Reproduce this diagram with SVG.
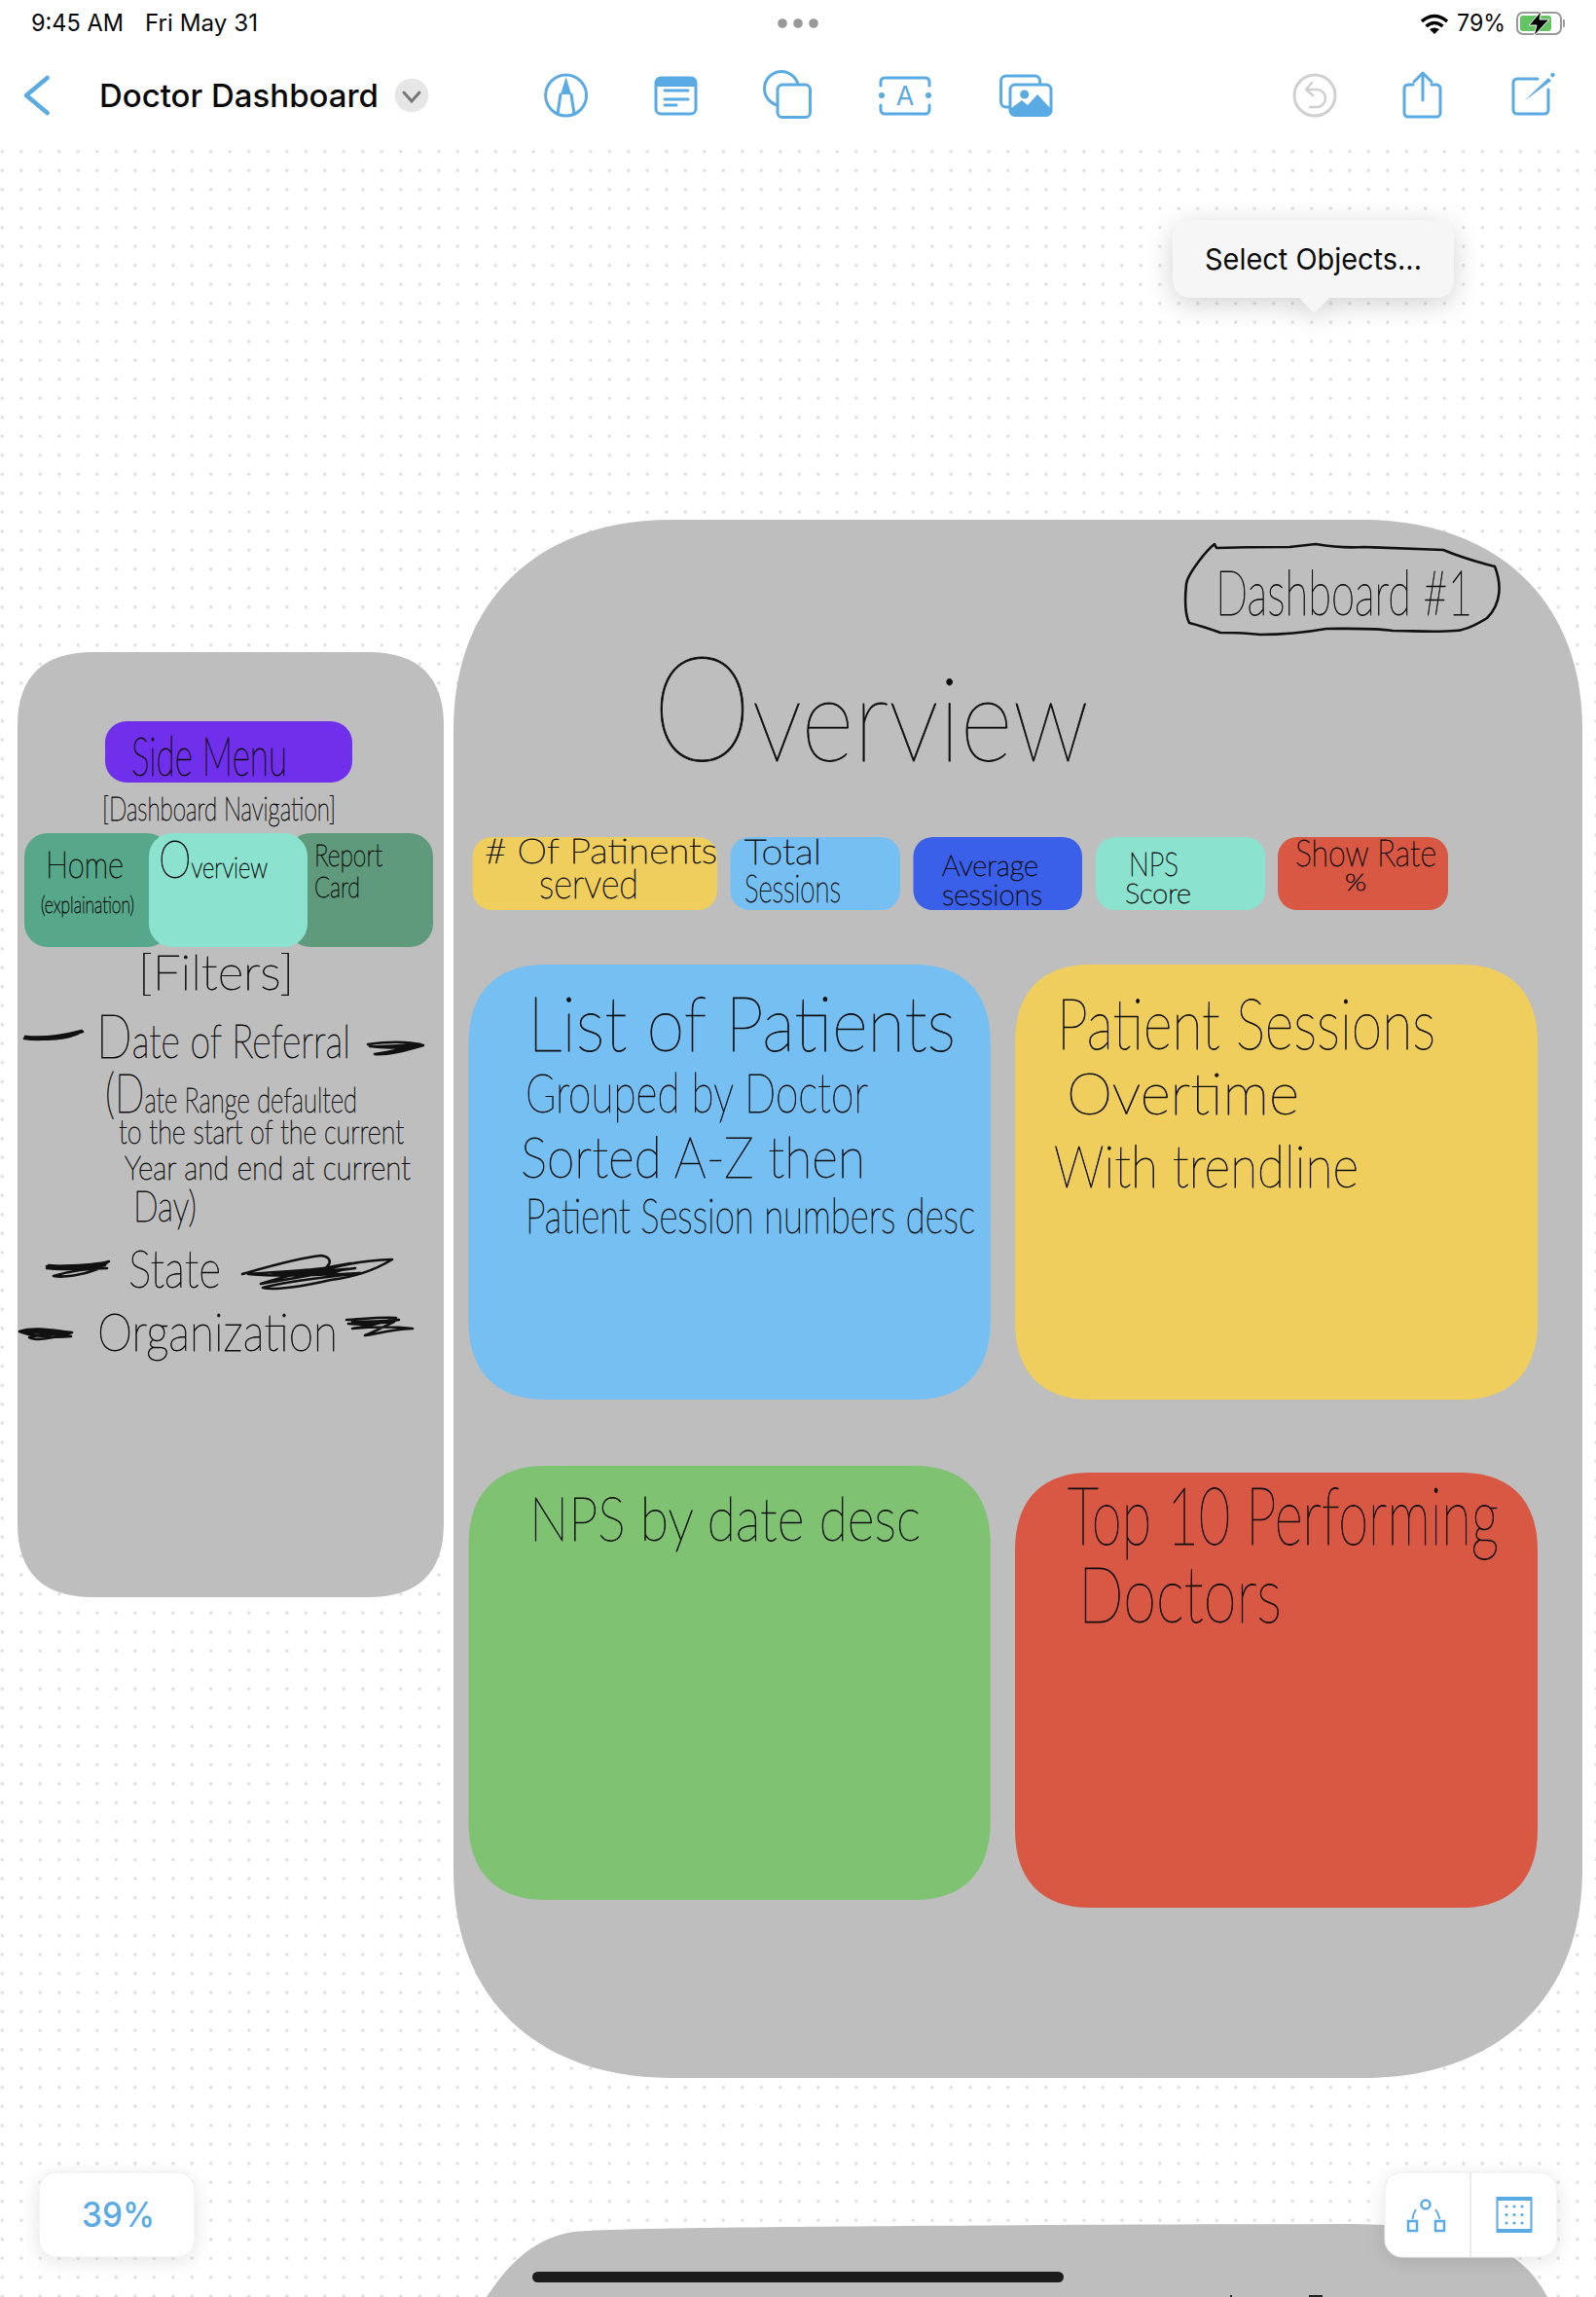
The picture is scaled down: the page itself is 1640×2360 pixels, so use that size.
<svg xmlns="http://www.w3.org/2000/svg" width="1640" height="2360" viewBox="0 0 1640 2360">
<style>
.ui{font-family:Inter,"Liberation Sans",sans-serif;fill:#0a0a0a}
.hw{font-family:Lato,Roboto,"Liberation Sans",sans-serif;font-weight:100;fill:#0d0d0d;stroke:#0d0d0d;stroke-width:.8}
.ic{fill:none;stroke:#5aabe3;stroke-width:3;stroke-linecap:round;stroke-linejoin:round}
.fb{fill:#5aabe3}
.sc{fill:none;stroke:#111;stroke-width:2.6;stroke-linecap:round;stroke-linejoin:round}
</style>
<defs>
<pattern id="dots" x="-7.45" y="145.95" width="19.5" height="19.5" patternUnits="userSpaceOnUse"><circle cx="9.75" cy="9.75" r="1.7" fill="#dcdcdc"/></pattern>
<filter id="sh" x="-30%" y="-60%" width="160%" height="240%"><feDropShadow dx="0" dy="6" stdDeviation="14" flood-color="#000" flood-opacity=".18"/></filter>
<filter id="sh2" x="-30%" y="-30%" width="160%" height="160%"><feDropShadow dx="0" dy="4" stdDeviation="10" flood-color="#000" flood-opacity=".1"/></filter>
</defs>
<rect width="1640" height="2360" fill="#fff"/>
<rect y="146" width="1640" height="2214" fill="url(#dots)"/>

<g id="bottom-panel"><path d="M500 2360C520 2330 545 2300 590 2293C620 2288 1000 2286 1380 2285C1490 2285 1560 2300 1590 2360Z" fill="#bebebe"/><path d="M1265 2360v-2M1345 2359h14" stroke="#222" stroke-width="2" fill="none"/></g>

<g id="side-panel">
<path d="M18 745C18 695 45 670 95 670H379C429 670 456 695 456 745V1566C456 1616 429 1641 379 1641H95C45 1641 18 1616 18 1566Z" fill="#bebebe"/>
</g>
<g id="side-menu">
<rect x="108" y="741" width="254" height="63" rx="22" fill="#7030eb"/>
<text class="hw" x="135" y="797" font-size="56" textLength="160" lengthAdjust="spacingAndGlyphs">Side Menu</text>
<text class="hw" x="105" y="843" font-size="34" textLength="240" lengthAdjust="spacingAndGlyphs">[Dashboard Navigation]</text>
</g>
<g id="nav-tabs">
<rect x="25" y="856" width="150" height="117" rx="24" fill="#57a88a"/>
<rect x="295" y="856" width="150" height="117" rx="24" fill="#5f9a7c"/>
<rect x="153" y="856" width="163" height="117" rx="24" fill="#8be2cf"/>
<text class="hw" x="47" y="902" font-size="38" textLength="80" lengthAdjust="spacingAndGlyphs">Home</text>
<text class="hw" x="42" y="938" font-size="23" textLength="96" lengthAdjust="spacingAndGlyphs">(explaination)</text>
<text class="hw" x="163" y="902" font-size="30" textLength="112" lengthAdjust="spacingAndGlyphs"><tspan font-size="54">O</tspan>verview</text>
<text class="hw" x="323" y="890" font-size="32" textLength="70" lengthAdjust="spacingAndGlyphs">Report</text>
<text class="hw" x="323" y="922" font-size="30" textLength="47" lengthAdjust="spacingAndGlyphs">Card</text>
</g>
<g id="filters">
<text class="hw" x="142" y="1017" font-size="50" textLength="160" lengthAdjust="spacingAndGlyphs">[Filters]</text>
<text class="hw" x="99" y="1087" font-size="48" textLength="261" lengthAdjust="spacingAndGlyphs"><tspan font-size="62">D</tspan>ate of Referral</text>
<text class="hw" x="108" y="1143" font-size="36" textLength="259" lengthAdjust="spacingAndGlyphs"><tspan font-size="56">(D</tspan>ate Range defaulted</text>
<text class="hw" x="122" y="1175" font-size="34" textLength="293" lengthAdjust="spacingAndGlyphs">to the start of the current</text>
<text class="hw" x="128" y="1212" font-size="34" textLength="294" lengthAdjust="spacingAndGlyphs">Year and end at current</text>
<text class="hw" x="137" y="1255" font-size="44" textLength="65" lengthAdjust="spacingAndGlyphs">Day)</text>
<text class="hw" x="132" y="1323" font-size="54" textLength="95" lengthAdjust="spacingAndGlyphs">State</text>
<text class="hw" x="100" y="1388" font-size="54" textLength="247" lengthAdjust="spacingAndGlyphs">Organization</text>
<path class="sc" d="M25 1067C45 1070 60 1066 85 1060C65 1066 45 1070 28 1066C50 1068 70 1064 84 1059C65 1064 45 1067 26 1065C45 1069 65 1068 80 1062"/>
<path class="sc" d="M378 1073C400 1070 420 1070 435 1074C415 1080 395 1084 385 1083C405 1080 420 1076 432 1073C410 1074 392 1076 380 1075C400 1078 418 1076 430 1075"/>
<path class="sc" d="M48 1301C70 1300 95 1301 112 1296L100 1304C85 1310 65 1313 55 1311C75 1305 95 1303 110 1303C85 1303 65 1304 48 1303C70 1306 90 1302 108 1300C85 1300 65 1302 50 1300"/>
<path class="sc" d="M249 1309C280 1300 310 1292 330 1290C345 1292 340 1305 320 1308C350 1300 370 1295 403 1294C385 1305 365 1312 340 1315C310 1322 280 1326 270 1323C300 1315 340 1312 370 1308C330 1310 290 1312 255 1309C300 1306 340 1304 360 1298C330 1303 290 1312 268 1319C300 1314 340 1306 365 1303C335 1306 300 1310 280 1308C310 1307 340 1310 350 1305"/>
<path class="sc" d="M20 1368C35 1363 55 1367 74 1369C55 1375 35 1378 30 1374C45 1370 60 1370 73 1373C50 1375 30 1372 20 1368C40 1369 55 1372 70 1371C50 1368 35 1368 24 1369"/>
<path class="sc" d="M356 1356C375 1355 390 1353 407 1354C390 1360 370 1364 362 1365C385 1363 405 1363 424 1365C400 1366 385 1371 375 1372C390 1366 400 1360 405 1358C385 1360 370 1360 358 1360C380 1362 395 1359 410 1356C390 1358 375 1358 362 1358"/>
</g>

<g id="main-panel">
<path d="M466 750C466 610 560 534 690 534H1400C1530 534 1626 610 1626 750V1921C1626 2061 1530 2135 1400 2135H690C560 2135 466 2061 466 1921Z" fill="#bebebe"/>
</g>
<g id="dashboard-title">
<path class="sc" d="M1248 559L1250 563C1280 562 1310 562 1325 562L1352 559C1370 562 1385 563 1401 562C1430 563 1460 564 1483 565C1500 572 1520 578 1536 582C1543 600 1543 620 1528 635C1520 640 1505 648 1495 648C1475 650 1450 648 1431 648C1410 645 1385 646 1363 646C1340 650 1315 652 1295 652C1280 650 1265 650 1254 650C1240 645 1230 642 1222 640C1217 630 1218 610 1219 600C1220 590 1240 565 1248 559Z"/>
<text class="hw" x="1249" y="632" font-size="64" textLength="264" lengthAdjust="spacingAndGlyphs">Dashboard #1</text>
</g>
<g id="overview-title">
<text class="hw" x="670" y="782" font-size="120" textLength="449" lengthAdjust="spacingAndGlyphs"><tspan font-size="150">O</tspan>verview</text>
</g>
<g id="kpi-patients"><rect x="485.600" y="860" width="251.400" height="75" rx="20" fill="#efce5e"/>
<text class="hw" x="498" y="887" font-size="36" textLength="239" lengthAdjust="spacingAndGlyphs"># Of Patinents</text>
<text class="hw" x="554" y="923" font-size="42" textLength="102" lengthAdjust="spacingAndGlyphs">served</text></g>
<g id="kpi-sessions"><rect x="750.400" y="860" width="174.600" height="75" rx="20" fill="#75bff2"/>
<text class="hw" x="765" y="888" font-size="36" textLength="79" lengthAdjust="spacingAndGlyphs">Total</text>
<text class="hw" x="765" y="927" font-size="40" textLength="99" lengthAdjust="spacingAndGlyphs">Sessions</text></g>
<g id="kpi-average"><rect x="938.500" y="860" width="173.500" height="75" rx="20" fill="#3a5fe9"/>
<text class="hw" x="968" y="900" font-size="30" textLength="99" lengthAdjust="spacingAndGlyphs">Average</text>
<text class="hw" x="968" y="930" font-size="30" textLength="103" lengthAdjust="spacingAndGlyphs">sessions</text></g>
<g id="kpi-nps"><rect x="1126" y="860" width="174" height="75" rx="20" fill="#8be2cf"/>
<text class="hw" x="1160" y="900" font-size="34" textLength="51" lengthAdjust="spacingAndGlyphs">NPS</text>
<text class="hw" x="1156" y="928" font-size="28" textLength="68" lengthAdjust="spacingAndGlyphs">Score</text></g>
<g id="kpi-show-rate"><rect x="1313" y="860" width="175" height="75" rx="20" fill="#d95844"/>
<text class="hw" x="1331" y="890" font-size="38" textLength="145" lengthAdjust="spacingAndGlyphs">Show Rate</text>
<text class="hw" x="1382" y="915" font-size="24" textLength="22" lengthAdjust="spacingAndGlyphs">%</text></g>

<g id="card-patients"><path d="M481.500 1071C481.500 1020 510 991 560 991H940C990 991 1017.700 1020 1017.700 1071V1358C1017.700 1409 990 1438 940 1438H560C510 1438 481.500 1409 481.500 1358Z" fill="#75bff2"/>
<text class="hw" x="542" y="1080" font-size="78" textLength="440" lengthAdjust="spacingAndGlyphs">List of Patients</text>
<text class="hw" x="540" y="1143" font-size="56" textLength="352" lengthAdjust="spacingAndGlyphs">Grouped by Doctor</text>
<text class="hw" x="535" y="1210" font-size="58" textLength="354" lengthAdjust="spacingAndGlyphs">Sorted A-Z then</text>
<text class="hw" x="540" y="1267" font-size="50" textLength="462" lengthAdjust="spacingAndGlyphs">Patient Session numbers desc</text></g>
<g id="card-trend"><path d="M1043 1071C1043 1020 1070 991 1120 991H1502C1552 991 1580 1020 1580 1071V1358C1580 1409 1552 1438 1502 1438H1120C1070 1438 1043 1409 1043 1358Z" fill="#efce5e"/>
<text class="hw" x="1086" y="1078" font-size="72" textLength="389" lengthAdjust="spacingAndGlyphs">Patient Sessions</text>
<text class="hw" x="1096" y="1145" font-size="60" textLength="239" lengthAdjust="spacingAndGlyphs">Overtime</text>
<text class="hw" x="1083" y="1220" font-size="60" textLength="313" lengthAdjust="spacingAndGlyphs">With trendline</text></g>
<g id="card-nps"><path d="M481.500 1586C481.500 1535 510 1506 560 1506H940C990 1506 1017.700 1535 1017.700 1586V1872C1017.700 1923 990 1952 940 1952H560C510 1952 481.500 1923 481.500 1872Z" fill="#7ec272"/>
<text class="hw" x="544" y="1583" font-size="62" textLength="402" lengthAdjust="spacingAndGlyphs">NPS by date desc</text></g>
<g id="card-top"><path d="M1043 1593C1043 1542 1070 1513 1120 1513H1502C1552 1513 1580 1542 1580 1593V1880C1580 1931 1552 1960 1502 1960H1120C1070 1960 1043 1931 1043 1880Z" fill="#d95844"/>
<text class="hw" x="1097" y="1587" font-size="82" textLength="443" lengthAdjust="spacingAndGlyphs">Top 10 Performing</text>
<text class="hw" x="1108" y="1667" font-size="80" textLength="209" lengthAdjust="spacingAndGlyphs">Doctors</text></g>

<g id="status-bar">
<text class="ui" x="32" y="31.700" font-size="24" textLength="95" lengthAdjust="spacingAndGlyphs">9:45 AM</text>
<text class="ui" x="149" y="31.700" font-size="24" textLength="116" lengthAdjust="spacingAndGlyphs">Fri May 31</text>
<circle cx="804" cy="24" r="4.800" fill="#999"/><circle cx="820" cy="24" r="4.800" fill="#999"/><circle cx="836" cy="24" r="4.800" fill="#999"/>
<g fill="none" stroke="#000" stroke-width="3.500"><path d="M1461 22Q1474 11 1487 22"/><path d="M1465.500 27Q1474 20 1482.500 27"/></g><path d="M1469 30Q1474 27 1479 30L1474 35Z" fill="#000"/>
<text class="ui" x="1497" y="31.700" font-size="24" textLength="50" lengthAdjust="spacingAndGlyphs">79%</text>
<rect x="1559" y="13" width="45" height="22" rx="6" fill="none" stroke="#999" stroke-width="2"/><rect x="1562" y="16" width="32" height="16" rx="3" fill="#62c462"/><rect x="1606" y="20" width="2" height="8" rx="1" fill="#999"/>
<path d="M1584 11L1571 26H1579L1576 37L1592 20H1582Z" fill="#000" stroke="#fff" stroke-width="1"/>
</g>
<g id="toolbar">
<path d="M48.600 80L27 98L48.600 116" fill="none" stroke="#5aabe3" stroke-width="4.500" stroke-linecap="round" stroke-linejoin="round"/>
<text class="ui" x="102" y="110" font-size="33" font-weight="500" textLength="287" lengthAdjust="spacingAndGlyphs">Doctor Dashboard</text>
<ellipse cx="423" cy="98" rx="17.300" ry="17.300" fill="#e6e6e6"/><path d="M415 95L423 104L431 95" fill="none" stroke="#777" stroke-width="3" stroke-linecap="round"/>
<circle class="ic" cx="581.600" cy="98" r="21"/><path class="fb" d="M581.600 79L587 97H576Z"/><path class="ic" d="M576 97L573 117M587 97L590 117" stroke-width="2"/>
<rect class="ic" x="674" y="80" width="41" height="37" rx="5"/><path class="fb" d="M674 89V84a5 5 0 0 1 5-5H710a5 5 0 0 1 5 5V89Z"/><path class="ic" d="M683 93H707M683 102H707M683 108H695" stroke-width="2.500"/>
<circle class="ic" cx="803" cy="91" r="17.500"/><rect x="799" y="87" width="33.500" height="33.500" rx="5" fill="#fff" stroke="#5aabe3" stroke-width="3"/>
<path class="ic" d="M905 88V84a4 4 0 0 1 4-4H951a4 4 0 0 1 4 4V88M905 108V113a4 4 0 0 0 4 4H951a4 4 0 0 0 4-4V108"/><circle class="fb" cx="906" cy="98" r="3"/><circle class="fb" cx="954" cy="98" r="3"/><text x="930" y="108" font-family="Inter,'Liberation Sans',sans-serif" font-size="27" text-anchor="middle" fill="#5aabe3">A</text>
<rect class="ic" x="1028.600" y="78" width="40" height="32" rx="5"/><rect x="1038" y="87" width="42" height="31.500" rx="5" fill="#fff" stroke="#5aabe3" stroke-width="3"/><path class="fb" d="M1038 112L1050 103L1056 108L1066 97L1080 112V114a5 5 0 0 1-5 5H1043a5 5 0 0 1-5-5Z"/><circle class="fb" cx="1052.700" cy="97" r="4.500"/>
<circle cx="1351" cy="98" r="21" fill="none" stroke="#d0d0d0" stroke-width="3"/><path d="M1348 85L1342 92L1349 98M1342 92H1353a9 9 0 0 1 0 18H1346" fill="none" stroke="#d0d0d0" stroke-width="2.500" stroke-linecap="round" stroke-linejoin="round"/>
<path class="ic" d="M1452 87H1447a4 4 0 0 0-4 4V116a4 4 0 0 0 4 4H1476a4 4 0 0 0 4-4V91a4 4 0 0 0-4-4H1471M1462 103V75M1453 84L1462 75L1471 84"/>
<path class="ic" d="M1580 81H1559a4 4 0 0 0-4 4V113a4 4 0 0 0 4 4H1587a4 4 0 0 0 4-4V92"/><path class="fb" d="M1567 103L1591 80L1594 83L1570 101Z"/><circle class="fb" cx="1595.500" cy="77" r="2.200"/>
</g>
<g id="select-popup">
<path d="M1227 226H1473Q1493.600 226 1493.600 246V286Q1493.600 306 1473 306H1366L1350 320.700L1335 306H1227Q1205.500 306 1205.500 286V246Q1205.500 226 1227 226Z" fill="#f6f6f6" filter="url(#sh)"/>
<text class="ui" x="1238" y="277" font-size="30" textLength="223" lengthAdjust="spacingAndGlyphs">Select Objects...</text>
</g>
<g id="zoom-box">
<rect x="40" y="2232" width="160" height="87" rx="18" fill="#fff" stroke="#ececec" filter="url(#sh2)"/>
<text x="84" y="2288" font-family="Inter,'Liberation Sans',sans-serif" font-size="35" font-weight="500" fill="#5aabe3" textLength="75" lengthAdjust="spacingAndGlyphs">39%</text>
</g>
<g id="tools-box">
<rect x="1423" y="2232" width="177" height="87" rx="18" fill="#fff" stroke="#ececec" filter="url(#sh2)"/>
<path d="M1511 2232V2319" stroke="#e4e4e4" stroke-width="1.500"/>
<circle cx="1465" cy="2265" r="4.500" fill="none" stroke="#5aabe3" stroke-width="2.500"/><rect x="1447" y="2282" width="9" height="10" fill="none" stroke="#5aabe3" stroke-width="2.500"/><rect x="1475" y="2282" width="9" height="10" fill="none" stroke="#5aabe3" stroke-width="2.500"/><path d="M1455 2270Q1452 2274 1451.500 2280M1475 2270Q1478 2274 1479.500 2280" fill="none" stroke="#5aabe3" stroke-width="2"/>
<rect x="1538.500" y="2258" width="35" height="35" fill="none" stroke="#5aabe3" stroke-width="2"/><path d="M1538 2258h36v3h-36ZM1538 2290h36v3h-36Z" fill="#5aabe3"/>
<g fill="#5aabe3"><circle cx="1548" cy="2267" r="1.600"/><circle cx="1556" cy="2267" r="1.600"/><circle cx="1564" cy="2267" r="1.600"/><circle cx="1548" cy="2275.500" r="1.600"/><circle cx="1556" cy="2275.500" r="1.600"/><circle cx="1564" cy="2275.500" r="1.600"/><circle cx="1548" cy="2284" r="1.600"/><circle cx="1556" cy="2284" r="1.600"/><circle cx="1564" cy="2284" r="1.600"/></g>
</g>
<rect id="home-bar" x="547" y="2334" width="546" height="11" rx="5.500" fill="#1c1c1c"/>
</svg>
